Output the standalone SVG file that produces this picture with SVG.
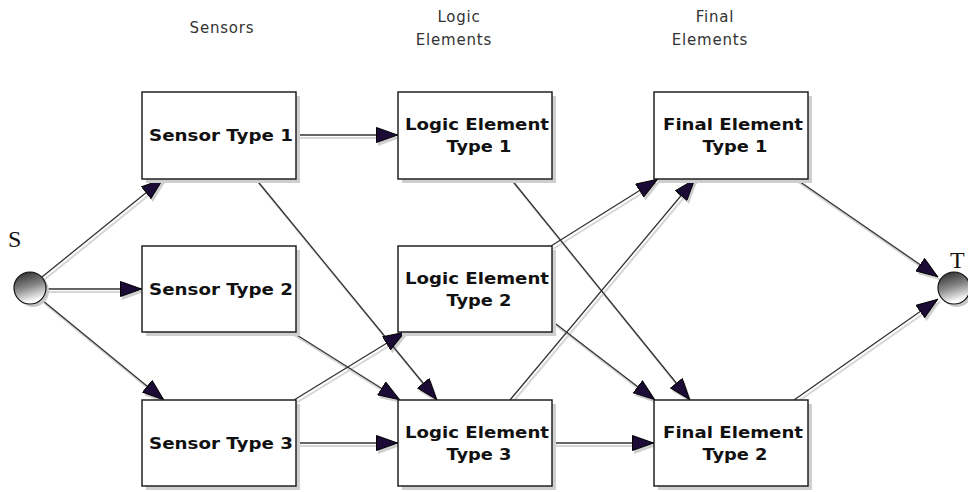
<svg xmlns="http://www.w3.org/2000/svg" width="968" height="492" viewBox="0 0 968 492">
<defs>
<style>
.box{fill:#fff;stroke:#222;stroke-width:1.5}
.shd{fill:#cfcfcf}
.lbl{font-family:"DejaVu Sans",Verdana,sans-serif;font-weight:bold;font-size:15.5px;fill:#111;text-anchor:middle}
.hdr{font-family:"DejaVu Sans",Tahoma,sans-serif;font-size:15px;letter-spacing:0.8px;fill:#333;text-anchor:middle}
.edge{stroke:#333;stroke-width:1.3;fill:none;marker-end:url(#arr)}
.eshd{stroke:#d6d6d6;stroke-width:2;fill:none;marker-end:url(#arrs)}
</style>
<marker id="arr" viewBox="0 0 22 16" refX="22" refY="8" markerWidth="22" markerHeight="16" markerUnits="userSpaceOnUse" orient="auto">
<path d="M0.5,0.5 L21.5,8 L0.5,15.5 z" fill="#1c0b36" stroke="#000" stroke-width="1"/>
</marker>
<marker id="arrs" viewBox="0 0 22 16" refX="22" refY="8" markerWidth="22" markerHeight="16" markerUnits="userSpaceOnUse" orient="auto">
<path d="M0,0 L22,8 L0,16 z" fill="#cfcfcf"/>
</marker>
<linearGradient id="ball" x1="0" y1="0" x2="0.3" y2="1">
<stop offset="0" stop-color="#222"/>
<stop offset="0.55" stop-color="#888"/>
<stop offset="1" stop-color="#fff"/>
</linearGradient>
</defs>
<rect width="968" height="492" fill="#fff"/>

<g id="headers">
<text class="hdr" x="222" y="33">Sensors</text>
<text class="hdr" x="459" y="22">Logic</text>
<text class="hdr" x="454" y="45">Elements</text>
<text class="hdr" x="715" y="22">Final</text>
<text class="hdr" x="710" y="45">Elements</text>
</g>

<g id="connectors">
<g transform="translate(2,3)">
<path class="eshd" d="M42,277 L163,179"/>
<path class="eshd" d="M46,289 L142,289"/>
<path class="eshd" d="M42,300 L164,400"/>
<path class="eshd" d="M296,135 L398,135"/>
<path class="eshd" d="M255,178 L437,400"/>
<path class="eshd" d="M292,332 L400,400"/>
<path class="eshd" d="M294,400 L405,332"/>
<path class="eshd" d="M296,443 L398,443"/>
<path class="eshd" d="M511,179 L690,400"/>
<path class="eshd" d="M551,246 L658,179"/>
<path class="eshd" d="M552,321 L655,400"/>
<path class="eshd" d="M510,400 L695,179"/>
<path class="eshd" d="M552,443 L654,443"/>
<path class="eshd" d="M796,179 L938,277"/>
<path class="eshd" d="M794,400 L938,299"/>
</g>
<path class="edge" d="M42,277 L163,179"/>
<path class="edge" d="M46,289 L142,289"/>
<path class="edge" d="M42,300 L164,400"/>
<path class="edge" d="M296,135 L398,135"/>
<path class="edge" d="M255,178 L437,400"/>
<path class="edge" d="M292,332 L400,400"/>
<path class="edge" d="M294,400 L405,332"/>
<path class="edge" d="M296,443 L398,443"/>
<path class="edge" d="M511,179 L690,400"/>
<path class="edge" d="M551,246 L658,179"/>
<path class="edge" d="M552,321 L655,400"/>
<path class="edge" d="M510,400 L695,179"/>
<path class="edge" d="M552,443 L654,443"/>
<path class="edge" d="M796,179 L938,277"/>
<path class="edge" d="M794,400 L938,299"/>
</g>

<g id="S">
<circle cx="33" cy="291" r="16" fill="#c8c8c8"/>
<circle cx="30" cy="288" r="16" fill="url(#ball)" stroke="#111" stroke-width="1.2"/>
<text x="8" y="247" font-family="Liberation Serif,serif" font-size="24" fill="#111">S</text>
</g>
<g id="T">
<circle cx="957" cy="291" r="16" fill="#c8c8c8"/>
<circle cx="954" cy="288" r="16" fill="url(#ball)" stroke="#111" stroke-width="1.2"/>
<text x="950" y="268" font-family="Liberation Serif,serif" font-size="24" fill="#111">T</text>
</g>

<g id="sensor1">
<rect class="shd" x="146" y="96" width="154" height="87"/>
<rect class="box" x="142" y="92" width="154" height="87"/>
<text class="lbl" x="221" y="141" textLength="144" lengthAdjust="spacingAndGlyphs">Sensor Type 1</text>
</g>
<g id="sensor2">
<rect class="shd" x="146" y="250" width="154" height="86"/>
<rect class="box" x="142" y="246" width="154" height="86"/>
<text class="lbl" x="221" y="295" textLength="144" lengthAdjust="spacingAndGlyphs">Sensor Type 2</text>
</g>
<g id="sensor3">
<rect class="shd" x="146" y="404" width="154" height="86"/>
<rect class="box" x="142" y="400" width="154" height="86"/>
<text class="lbl" x="221" y="449" textLength="144" lengthAdjust="spacingAndGlyphs">Sensor Type 3</text>
</g>

<g id="logic1">
<rect class="shd" x="402" y="96" width="154" height="87"/>
<rect class="box" x="398" y="92" width="154" height="87"/>
<text class="lbl" x="477" y="130" textLength="144" lengthAdjust="spacingAndGlyphs">Logic Element</text>
<text class="lbl" x="479" y="152" textLength="65" lengthAdjust="spacingAndGlyphs">Type 1</text>
</g>
<g id="logic2">
<rect class="shd" x="402" y="250" width="154" height="86"/>
<rect class="box" x="398" y="246" width="154" height="86"/>
<text class="lbl" x="477" y="284" textLength="144" lengthAdjust="spacingAndGlyphs">Logic Element</text>
<text class="lbl" x="479" y="306" textLength="65" lengthAdjust="spacingAndGlyphs">Type 2</text>
</g>
<g id="logic3">
<rect class="shd" x="402" y="404" width="154" height="86"/>
<rect class="box" x="398" y="400" width="154" height="86"/>
<text class="lbl" x="477" y="438" textLength="144" lengthAdjust="spacingAndGlyphs">Logic Element</text>
<text class="lbl" x="479" y="460" textLength="65" lengthAdjust="spacingAndGlyphs">Type 3</text>
</g>

<g id="final1">
<rect class="shd" x="658" y="96" width="154" height="87"/>
<rect class="box" x="654" y="92" width="154" height="87"/>
<text class="lbl" x="733" y="130" textLength="140" lengthAdjust="spacingAndGlyphs">Final Element</text>
<text class="lbl" x="735" y="152" textLength="65" lengthAdjust="spacingAndGlyphs">Type 1</text>
</g>
<g id="final2">
<rect class="shd" x="658" y="404" width="154" height="86"/>
<rect class="box" x="654" y="400" width="154" height="86"/>
<text class="lbl" x="733" y="438" textLength="140" lengthAdjust="spacingAndGlyphs">Final Element</text>
<text class="lbl" x="735" y="460" textLength="65" lengthAdjust="spacingAndGlyphs">Type 2</text>
</g>
</svg>
